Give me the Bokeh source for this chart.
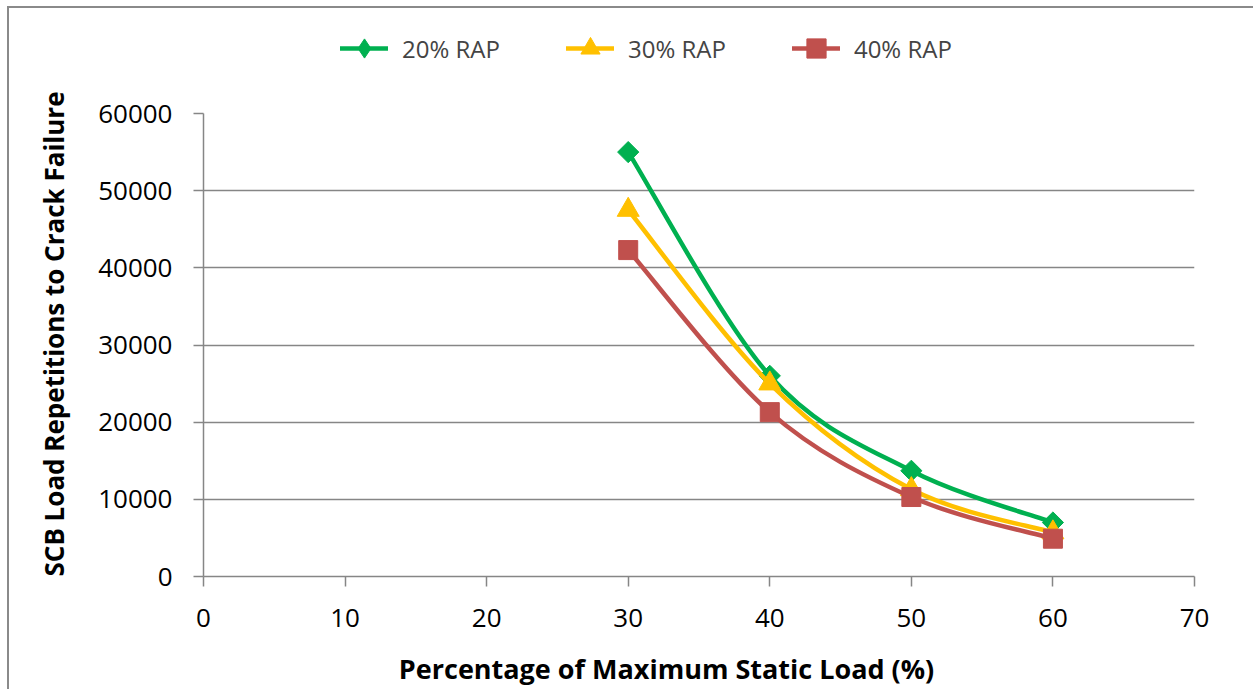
import math
from bokeh.plotting import figure
from bokeh.layouts import column, row
from bokeh.models import Legend, LegendItem, Label, Title, SingleIntervalTicker, Range1d
from bokeh.embed import file_html
from bokeh.resources import INLINE

# ---- data ----
load_pct = [30, 40, 50, 60]
rap20 = [55000, 26000, 13700, 7000]
rap30 = [47500, 25000, 11300, 5700]
rap40 = [42300, 21300, 10300, 4900]
series_names = ["20% RAP", "30% RAP", "40% RAP"]
x_title = "Percentage of Maximum Static Load (%)"
y_title = "SCB Load Repetitions to Crack Failure"

FONT = "Open Sans"
GRAY = "#868686"
colors = ["#00B050", "#FFC000", "#C0504D"]

W = 1253 - 9          # total canvas width
TOP_H = 75            # legend strip
MID_H = 565           # main plot height
BOT_H = 689 - 8 - TOP_H - MID_H  # x-title strip

# ---- legend strip ----
top = figure(width=W, height=TOP_H, output_backend="svg", toolbar_location=None,
             x_range=Range1d(0, 70), y_range=Range1d(-2, -1),
             x_axis_type=None, y_axis_type=None,
             min_border_left=0, min_border_right=0, min_border_top=0, min_border_bottom=0)
top.outline_line_color = None
top.background_fill_color = "white"
top.border_fill_color = "white"

# ---- main chart ----
p = figure(width=W, height=MID_H, output_backend="svg", toolbar_location=None,
           x_range=Range1d(0, 70), y_range=Range1d(0, 60000),
           min_border_left=203 - 9, min_border_right=59,
           min_border_top=105 - TOP_H, min_border_bottom=MID_H - 30 - 463)
p.outline_line_color = None
p.background_fill_color = "white"
p.border_fill_color = "white"

p.xgrid.grid_line_color = None
p.ygrid.grid_line_color = GRAY
p.ygrid.grid_line_width = 1.5

for ax in (p.xaxis[0], p.yaxis[0]):
    ax.axis_line_color = GRAY
    ax.axis_line_width = 1.5
    ax.major_tick_line_color = GRAY
    ax.major_tick_line_width = 1.5
    ax.major_tick_out = 10
    ax.major_tick_in = 0
    ax.minor_tick_line_color = None
    ax.major_label_text_font = FONT
    ax.major_label_text_font_size = "26px"
    ax.major_label_text_color = "black"

p.xaxis[0].ticker = SingleIntervalTicker(interval=10)
p.yaxis[0].ticker = SingleIntervalTicker(interval=10000)
p.xaxis[0].major_label_standoff = 22
p.yaxis[0].major_label_standoff = 21
p.yaxis[0].formatter.use_scientific = False


def smooth_segments(xs, ys):
    n = len(xs)
    seg = dict(x0=[], y0=[], x1=[], y1=[], cx0=[], cy0=[], cx1=[], cy1=[])
    for i in range(n - 1):
        im1 = max(i - 1, 0)
        ip2 = min(i + 2, n - 1)
        seg["x0"].append(xs[i]); seg["y0"].append(ys[i])
        seg["x1"].append(xs[i + 1]); seg["y1"].append(ys[i + 1])
        seg["cx0"].append(xs[i] + (xs[i + 1] - xs[im1]) / 6)
        seg["cy0"].append(ys[i] + (ys[i + 1] - ys[im1]) / 6)
        seg["cx1"].append(xs[i + 1] - (xs[ip2] - xs[i]) / 6)
        seg["cy1"].append(ys[i + 1] - (ys[ip2] - ys[i]) / 6)
    return seg


items = []
markers = [("square", 15, math.pi / 4, "diamond"), ("triangle", 22, 0, "triangle"),
           ("square", 19, 0, "square")]
for name, ys, col, (mk, sz, ang, lmk) in zip(series_names, [rap20, rap30, rap40], colors, markers):
    seg = smooth_segments(load_pct, ys)
    p.bezier(line_color=col, line_width=4.5, **seg)
    p.scatter(x=load_pct, y=ys, marker=mk, size=sz, angle=ang,
              fill_color=col, line_color=col)
    # same series in the legend strip (outside its visible range) to draw legend glyphs
    ln = top.line(x=load_pct, y=ys, line_color=col, line_width=4.5, line_cap="round")
    sc = top.scatter(x=load_pct, y=ys, marker=lmk, size=sz, fill_color=col, line_color=col)
    items.append(LegendItem(label=name, renderers=[ln, sc]))

legend = Legend(items=items, orientation="horizontal", location=(331, 10),
                label_text_font=FONT, label_text_font_size="24px",
                glyph_width=48, glyph_height=50, label_standoff=14, spacing=66,
                padding=0, margin=0, border_line_alpha=0, background_fill_alpha=0)
top.add_layout(legend, "center")

# ---- y title (side panel of the main chart) ----
yt = Title(text=y_title, align="left", offset=0,
           text_font=FONT, text_font_style="bold", text_font_size="26px", text_color="black")
if "standoff" in set(Title.properties()):
    yt.standoff = 48
p.add_layout(yt, "left")

# ---- x-title strip ----
bottom = figure(width=W, height=BOT_H, output_backend="svg", toolbar_location=None,
                x_range=Range1d(0, 1), y_range=Range1d(0, 1),
                x_axis_type=None, y_axis_type=None,
                min_border_left=0, min_border_right=0, min_border_top=0, min_border_bottom=0)
bottom.outline_line_color = None
bottom.background_fill_color = "white"
bottom.border_fill_color = "white"
bottom.add_layout(Label(x=666 - 9, y=BOT_H - (668 - 8 - TOP_H - MID_H), x_units="screen",
                        y_units="screen", text=x_title,
                        text_font=FONT, text_font_style="bold", text_font_size="27px",
                        text_align="center", text_baseline="middle", text_color="black"))

layout = column(top, row(p, spacing=0), bottom, spacing=0)
layout.styles = {"margin-left": "7px", "margin-top": "6px",
                 "border-left": "2px solid #8a8a8a", "border-top": "2px solid #8a8a8a"}

open("out.html", "w").write(file_html(layout, INLINE))
